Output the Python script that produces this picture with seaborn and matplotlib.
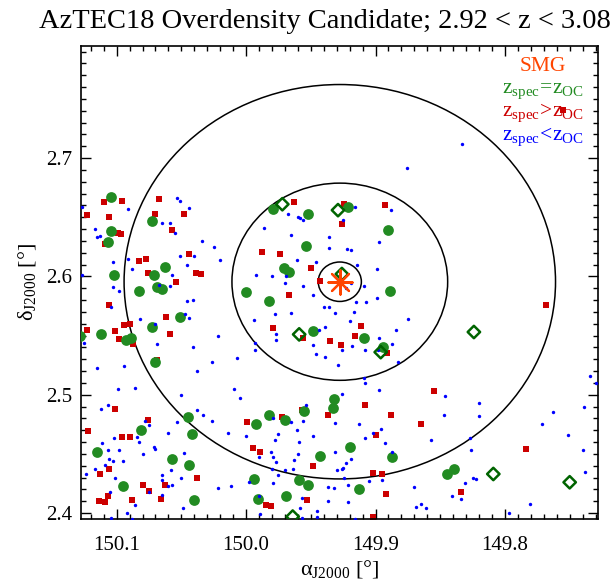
import matplotlib
matplotlib.use("Agg")
import matplotlib.pyplot as plt
import numpy as np
import pandas as pd
import seaborn as sns
from matplotlib.patches import Circle
from matplotlib.ticker import MultipleLocator, FormatStrFormatter

# Submillimetre galaxy and the search radii around it (arcmin)
smg_ra = [149.9276]
smg_dec = [2.5955]
circle_radii_arcmin = [1, 5, 10]

# Spectroscopic members, z_spec = z_OC
eq_ra = [150.104, 150.073, 150.104, 150.107, 150.063, 150.102, 150.071, 150.083, 150.069, 150.065,
         150.051, 150.073, 150.128, 150.112, 150.089, 150.093, 150.070,
         149.979, 149.952, 149.921, 149.890, 149.954, 149.971, 149.967, 150.000, 149.982, 149.889,
         149.948, 149.909, 149.894,
         150.115, 150.081, 150.045, 150.042, 150.057, 150.044, 150.095, 150.040, 149.992, 149.982,
         149.970, 149.955, 149.994, 149.991, 149.969, 149.959, 149.952, 149.943,
         149.932, 149.933, 149.920, 149.887, 149.913, 149.845, 149.839]
eq_dec = [2.667, 2.647, 2.638, 2.629, 2.608, 2.601, 2.601, 2.588, 2.591, 2.589,
          2.566, 2.557, 2.550, 2.551, 2.548, 2.546, 2.528,
          2.657, 2.653, 2.659, 2.639, 2.626, 2.607, 2.604, 2.587, 2.579, 2.588,
          2.554, 2.548, 2.540,
          2.452, 2.470, 2.481, 2.467, 2.446, 2.441, 2.423, 2.411, 2.475, 2.483,
          2.479, 2.486, 2.429, 2.412, 2.414, 2.428, 2.424, 2.448,
          2.496, 2.489, 2.456, 2.447, 2.420, 2.433, 2.437]

# Photometric candidates flagged with open diamonds
dia_ra = [149.972, 149.929, 149.926, 149.959, 149.896, 149.964, 149.809, 149.750, 149.824]
dia_dec = [2.661, 2.656, 2.602, 2.551, 2.536, 2.397, 2.433, 2.426, 2.553]

# Sources with z_spec > z_OC
hi_ra = [150.110, 150.096, 150.067, 150.123, 150.106, 150.070, 150.048, 150.099, 150.097, 150.057,
         150.109, 150.044, 150.083, 150.077, 150.076, 150.039, 150.035, 150.054, 150.106, 150.062,
         150.123, 150.094, 150.090, 150.101, 150.059, 150.098, 150.087, 150.069,
         149.963, 149.924, 149.893, 149.926, 149.988, 149.974, 149.950, 149.943, 149.967, 149.979,
         149.911, 149.916, 149.956, 149.935, 149.927, 149.891,
         150.101, 150.076, 150.122, 150.096, 150.090, 150.106, 150.113, 150.080, 150.075, 150.063,
         150.038, 150.107, 150.114, 150.109, 150.088, 150.066, 149.999, 149.995, 149.989, 149.972,
         149.957, 149.948, 149.985, 149.981, 149.953,
         149.937, 149.908, 149.888, 149.855, 149.865, 149.900, 149.902, 149.895, 149.784, 149.834,
         149.892, 149.902, 149.755, 149.768]
hi_dec = [2.663, 2.664, 2.665, 2.652, 2.650, 2.653, 2.653, 2.637, 2.636, 2.639,
          2.627, 2.619, 2.613, 2.615, 2.603, 2.603, 2.602, 2.595, 2.576, 2.566,
          2.555, 2.559, 2.560, 2.554, 2.551, 2.547, 2.543, 2.529,
          2.663, 2.661, 2.660, 2.644, 2.621, 2.619, 2.607, 2.596, 2.584, 2.556,
          2.558, 2.550, 2.548, 2.545, 2.542, 2.535,
          2.488, 2.479, 2.469, 2.464, 2.464, 2.437, 2.433, 2.424, 2.419, 2.424,
          2.430, 2.414, 2.410, 2.409, 2.411, 2.412, 2.477, 2.455, 2.452, 2.481,
          2.487, 2.440, 2.407, 2.406, 2.411,
          2.483, 2.491, 2.483, 2.503, 2.475, 2.466, 2.434, 2.433, 2.454, 2.418,
          2.416, 2.397, 2.741, 2.576]

# Sources with z_spec < z_OC
lo_ra = [150.127, 150.091, 150.053, 150.051, 150.044, 150.065, 150.059, 150.117, 150.113, 150.115,
         150.055, 150.034, 150.025, 150.020, 150.103, 150.091, 150.051, 150.040, 150.088, 150.046,
         150.127, 150.057, 150.103, 150.098, 150.059, 150.067, 150.104, 150.046, 150.041, 150.082,
         150.047, 150.044, 150.070, 150.022, 150.125, 150.069, 150.041, 150.026, 150.007, 150.115,
         150.094, 150.038,
         149.968, 149.960, 149.958, 149.956, 149.916, 149.888, 149.925, 149.986, 149.965, 149.936,
         149.936, 149.922, 149.919, 149.897, 149.961, 149.946, 149.914, 149.899, 149.992, 149.980,
         149.969, 149.970, 149.956, 149.919, 149.909, 149.923, 149.948, 149.899, 149.915, 149.907,
         149.940, 149.936, 149.978, 149.965, 149.931, 149.917, 149.875, 149.994, 149.920, 149.939,
         149.884, 149.977, 149.977, 149.944, 149.897, 149.993, 149.993, 149.948, 149.918, 149.926,
         149.908, 149.898, 149.887, 149.946, 149.939, 149.883, 149.929, 149.909,
         150.099, 150.086, 150.050, 150.009, 150.005, 150.112, 150.107, 150.038, 150.033, 150.026,
         150.053, 150.078, 150.075, 150.060, 150.014, 150.000, 150.102, 150.084, 150.083, 150.111,
         150.107, 150.098, 150.071, 150.070, 150.080, 150.048, 150.106, 150.095, 150.103, 150.109,
         150.117, 150.058, 150.124, 150.065, 150.065, 150.101, 150.050, 150.057, 150.060, 150.022,
         150.012, 150.105, 150.075, 150.065, 150.086, 150.049, 150.092, 150.104, 150.088, 149.989,
         149.979, 149.965, 149.961, 149.956, 149.954, 149.975, 149.978, 149.981, 149.979, 149.990,
         149.977, 149.960, 149.959, 149.963, 149.980, 149.970, 149.964, 149.975, 149.998, 149.979,
         149.990, 149.957, 149.958, 149.945, 149.945, 149.948, 149.957,
         149.908, 149.926, 149.897, 149.846, 149.820, 149.820, 149.847, 149.931, 149.913, 149.902,
         149.896, 149.908, 149.893, 149.857, 149.827, 149.826, 149.931, 149.887, 149.919, 149.923,
         149.925, 149.926, 149.930, 149.924, 149.905, 149.895, 149.921, 149.937, 149.932, 149.937,
         149.921, 149.870, 149.831, 149.825, 149.822, 149.841, 149.834, 149.869, 149.865, 149.861,
         149.916, 149.797, 149.781, 149.771, 149.763, 149.751, 149.740, 149.738, 149.739, 149.734,
         149.730, 149.833, 149.876]
lo_dec = [2.659, 2.657, 2.666, 2.664, 2.658, 2.645, 2.645, 2.640, 2.634, 2.633,
          2.637, 2.630, 2.625, 2.614, 2.612, 2.615, 2.617, 2.617, 2.606, 2.610,
          2.601, 2.601, 2.591, 2.588, 2.592, 2.593, 2.574, 2.579, 2.580, 2.564,
          2.568, 2.565, 2.560, 2.550, 2.544, 2.543, 2.540, 2.528, 2.531, 2.523,
          2.524, 2.520,
          2.653, 2.650, 2.649, 2.648, 2.659, 2.656, 2.648, 2.641, 2.635, 2.633,
          2.624, 2.623, 2.622, 2.629, 2.614, 2.612, 2.610, 2.606, 2.601, 2.600,
          2.600, 2.594, 2.592, 2.594, 2.592, 2.590, 2.584, 2.582, 2.578, 2.578,
          2.574, 2.574, 2.568, 2.569, 2.569, 2.570, 2.564, 2.563, 2.562, 2.557,
          2.555, 2.551, 2.546, 2.555, 2.548, 2.544, 2.538, 2.542, 2.541, 2.538,
          2.538, 2.538, 2.543, 2.534, 2.532, 2.528, 2.525, 2.514,
          2.505, 2.506, 2.500, 2.505, 2.497, 2.488, 2.491, 2.487, 2.483, 2.478,
          2.477, 2.478, 2.474, 2.468, 2.468, 2.465, 2.463, 2.464, 2.460, 2.459,
          2.453, 2.453, 2.456, 2.454, 2.450, 2.451, 2.446, 2.444, 2.444, 2.441,
          2.437, 2.436, 2.433, 2.432, 2.428, 2.430, 2.430, 2.424, 2.423, 2.421,
          2.423, 2.418, 2.418, 2.415, 2.407, 2.404, 2.400, 2.396, 2.395, 2.399,
          2.480, 2.477, 2.470, 2.478, 2.491, 2.467, 2.462, 2.452, 2.447, 2.447,
          2.443, 2.450, 2.460, 2.445, 2.437, 2.436, 2.437, 2.432, 2.426, 2.425,
          2.414, 2.413, 2.404, 2.402, 2.397, 2.465, 2.396,
          2.510, 2.501, 2.504, 2.499, 2.493, 2.482, 2.483, 2.476, 2.475, 2.468,
          2.471, 2.463, 2.459, 2.462, 2.463, 2.453, 2.452, 2.452, 2.446, 2.442,
          2.438, 2.437, 2.436, 2.430, 2.427, 2.428, 2.424, 2.422, 2.421, 2.410,
          2.409, 2.422, 2.425, 2.430, 2.429, 2.414, 2.412, 2.405, 2.408, 2.404,
          2.395, 2.400, 2.408, 2.475, 2.485, 2.466, 2.453, 2.435, 2.490, 2.516,
          2.510, 2.712, 2.692]

title = "AzTEC18 Overdensity Candidate; 2.92 < z < 3.08"

sns.set_theme(style="ticks")
plt.rcParams["font.family"] = ["Liberation Serif", "DejaVu Serif"]
plt.rcParams["mathtext.fontset"] = "custom"
plt.rcParams["mathtext.rm"] = "Liberation Serif"
plt.rcParams["mathtext.it"] = "Liberation Serif:italic"
plt.rcParams["mathtext.default"] = "regular"

fig = plt.figure(figsize=(6.14, 5.79), dpi=100)
ax = fig.add_axes([0.1314, 0.1031, 0.8430, 0.8180])

# Search circles centred on the SMG
for r in circle_radii_arcmin:
    ax.add_patch(Circle((smg_ra[0], smg_dec[0]), r / 60.0, fill=False,
                        edgecolor="black", lw=1.1, zorder=1))

hi = pd.DataFrame({"ra": hi_ra, "dec": hi_dec})
eq = pd.DataFrame({"ra": eq_ra, "dec": eq_dec})
lo = pd.DataFrame({"ra": lo_ra, "dec": lo_dec})
dia = pd.DataFrame({"ra": dia_ra, "dec": dia_dec})
smg = pd.DataFrame({"ra": smg_ra, "dec": smg_dec})

sns.scatterplot(data=hi, x="ra", y="dec", marker="s", s=17, color="#CC0000",
                linewidth=0, ax=ax, zorder=2)
sns.scatterplot(data=eq, x="ra", y="dec", marker="o", s=60, color="#228B22",
                linewidth=0, ax=ax, zorder=3)
sns.scatterplot(data=lo, x="ra", y="dec", marker="o", s=6, color="#0000FF",
                linewidth=0, ax=ax, zorder=4)
sns.scatterplot(data=dia, x="ra", y="dec", marker="D", s=40, facecolors="none",
                edgecolor="#006400", linewidth=1.8, ax=ax, zorder=5)
sns.scatterplot(data=smg, x="ra", y="dec", marker=(8, 2, 0), s=300,
                color="#FF4500", linewidth=1.6, ax=ax, zorder=6)

ax.set_xlim(150.1278, 149.7279)
ax.set_ylim(2.3947, 2.7950)
ax.xaxis.set_major_locator(MultipleLocator(0.1))
ax.xaxis.set_minor_locator(MultipleLocator(0.01))
ax.yaxis.set_major_locator(MultipleLocator(0.1))
ax.yaxis.set_minor_locator(MultipleLocator(0.01))
ax.xaxis.set_major_formatter(FormatStrFormatter("%.1f"))
ax.yaxis.set_major_formatter(FormatStrFormatter("%.1f"))
ax.tick_params(which="both", direction="in", top=True, right=True,
               color="black", width=1.0, labelsize=15, labelcolor="black")
ax.tick_params(which="major", length=7.5)
ax.tick_params(which="minor", length=3.8)
ax.tick_params(axis="x", which="major", pad=12)
ax.tick_params(axis="y", which="major", pad=6)
for sp in ax.spines.values():
    sp.set_color("black")
    sp.set_linewidth(1.2)

ax.set_xlabel(r"$\mathrm{\alpha_{J2000}}$ [°]", fontsize=16, color="black", labelpad=2)
ax.set_ylabel(r"$\mathrm{\delta_{J2000}}$ [°]", fontsize=16, color="black", labelpad=6)

fig.text(325 / 614, 1 - 22 / 579, title, ha="center", va="center", fontsize=20.5,
         color="black")

# Key in the upper right corner
key = [("SMG", "#FF4500", 0.9557),
       (r"$\mathrm{z_{spec}\!=\!z_{OC}}$", "#228B22", 0.9029),
       (r"$\mathrm{z_{spec}\!>\!z_{OC}}$", "#CC0000", 0.8580),
       (r"$\mathrm{z_{spec}\!<\!z_{OC}}$", "#0000FF", 0.8080)]
for txt, col, yy in key:
    ax.text(0.893, yy, txt, color=col, fontsize=15.5, ha="center", va="center",
            transform=ax.transAxes, zorder=7)

fig.savefig("out.png", dpi=100)
